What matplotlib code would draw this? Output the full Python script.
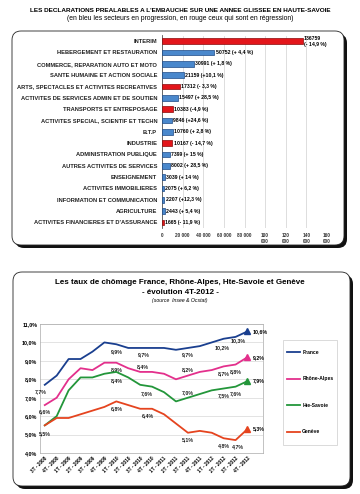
import matplotlib.pyplot as plt
from matplotlib.patches import FancyBboxPatch, Rectangle

plt.rcParams['font.family'] = ['Liberation Sans', 'DejaVu Sans']

# --- données : déclarations préalables à l'embauche
secteurs = ["INTERIM", "HEBERGEMENT ET RESTAURATION", "COMMERCE, REPARATION AUTO ET MOTO",
            "SANTE HUMAINE ET ACTION SOCIALE", "ARTS, SPECTACLES ET ACTIVITES RECREATIVES",
            "ACTIVITES DE SERVICES ADMIN ET DE SOUTIEN", "TRANSPORTS ET ENTREPOSAGE",
            "ACTIVITES SPECIAL, SCIENTIF ET TECHN", "B.T.P", "INDUSTRIE",
            "ADMINISTRATION PUBLIQUE", "AUTRES ACTIVITES DE SERVICES", "ENSEIGNEMENT",
            "ACTIVITES IMMOBILIERES", "INFORMATION ET COMMUNICATION", "AGRICULTURE",
            "ACTIVITES FINANCIERES ET D'ASSURANCE"]
dpae = [136759, 50752, 30991, 21159, 17312, 15497, 10383, 9846, 10760, 10167,
        7399, 8002, 3039, 2075, 2207, 2443, 1665]
evol = ["- 14,9 %", "+ 4,4 %", "+ 1,8 %", "+10,1 %", "- 3,3 %", "+ 28,5 %", "-4,9 %",
        "+24,6 %", "+ 2,8 %", "- 14,7 %", "+ 15 %", "+ 28,5 %", "+ 14 %", "+ 6,2 %",
        "+12,3 %", "+ 5,4 %", "- 11,9 %"]
x_ticks = [0, 20000, 40000, 60000, 80000, 100000, 120000, 140000, 160000]
x_labels = ["0", "20 000", "40 000", "60 000", "80 000", "100\n000", "120\n000", "140\n000", "160\n000"]

# --- données : taux de chômage
trimestres = ["3T - 2008", "4T - 2008", "1T - 2009", "2T - 2009", "3T - 2009", "4T - 2009",
              "1T - 2010", "2T - 2010", "3T - 2010", "4T - 2010", "1T - 2011", "2T - 2011",
              "3T - 2011", "4T - 2011", "1T - 2012", "2T - 2012", "3T - 2012", "4T - 2012"]
france = [7.7, 8.2, 9.1, 9.1, 9.5, 10.0, 9.9, 9.7, 9.7, 9.7, 9.7, 9.6, 9.7, 9.8, 10.0, 10.2, 10.3, 10.6]
rhone = [6.6, 7.0, 8.0, 8.6, 8.5, 8.9, 8.9, 8.6, 8.4, 8.4, 8.3, 8.0, 8.2, 8.4, 8.5, 8.7, 8.8, 9.2]
savoie = [5.5, 6.0, 7.4, 8.1, 8.1, 8.3, 8.4, 8.1, 7.7, 7.6, 7.3, 6.8, 7.0, 7.2, 7.4, 7.5, 7.6, 7.9]
geneve = [5.5, 5.9, 5.9, 6.1, 6.3, 6.5, 6.8, 6.6, 6.4, 6.4, 6.1, 5.6, 5.1, 5.2, 5.1, 4.8, 4.7, 5.3]

W, H = 360, 494
fig = plt.figure(figsize=(W / 100, H / 100), dpi=100)


def fy(py):
    return 1 - py / H


# fond : cadres arrondis avec ombre
bg = fig.add_axes([0, 0, 1, 1], zorder=0)
bg.set_xlim(0, W)
bg.set_ylim(H, 0)
bg.axis('off')
for (x0, y0, w, h) in [(12, 31, 332, 214), (13, 272, 337, 214)]:
    bg.add_patch(FancyBboxPatch((x0 + 3, y0 + 3), w, h, boxstyle='round,pad=0,rounding_size=9',
                                fc='#111111', ec='none'))
    bg.add_patch(FancyBboxPatch((x0, y0), w, h, boxstyle='round,pad=0,rounding_size=9',
                                fc='white', ec='#222222', lw=0.6))
# cadre de la légende
bg.add_patch(Rectangle((283, 340), 54, 105, fc='white', ec='#cccccc', lw=0.5))

# titres
fig.text(0.5, fy(11), "LES DECLARATIONS PREALABLES A L'EMBAUCHE SUR UNE ANNEE GLISSEE EN HAUTE-SAVOIE",
         ha='center', va='center', fontsize=4.55, fontweight='bold')
fig.text(0.5, fy(19), "(en bleu les secteurs en progression, en rouge ceux qui sont en régression)",
         ha='center', va='center', fontsize=4.85)

# --- graphique en barres
ax1 = fig.add_axes([162 / W, fy(228), 165 / W, 192.5 / H], zorder=2)
couleurs = ['#e3161b' if e.startswith('-') else '#4a88cc' for e in evol]
bords = ['#8a0a0a' if e.startswith('-') else '#1d4a86' for e in evol]
ax1.barh(range(len(secteurs)), dpae, height=0.5, color=couleurs, edgecolor=bords, linewidth=0.5, zorder=3)
ax1.set_ylim(len(secteurs) - 0.5, -0.5)
ax1.set_xlim(0, 160000)
ax1.set_yticks(range(len(secteurs)))
ax1.set_yticklabels(secteurs, fontsize=4.15, fontweight='bold', color='#222222')
ax1.set_xticks(x_ticks)
ax1.set_xticklabels(x_labels, fontsize=3.4, fontweight='bold', color='#333333')
ax1.tick_params(length=0, pad=3.5)
ax1.grid(axis='x', color='#d0d0d0', lw=0.5, zorder=0)
for s in ['top', 'right', 'bottom']:
    ax1.spines[s].set_visible(False)
ax1.spines['left'].set_color('#555555')
ax1.spines['left'].set_linewidth(0.6)
for i, (v, e) in enumerate(zip(dpae, evol)):
    if i == 0:
        ax1.text(v + 800, i, f"{v}\n({e})", va='center', ha='left', fontsize=3.7,
                 fontweight='bold', linespacing=1.2)
    else:
        ax1.text(v + 1200, i, f"{v} ({e})", va='center', ha='left', fontsize=3.7, fontweight='bold')

# --- graphique du chômage
fig.text(0.5, fy(282), "Les taux de chômage France, Rhône-Alpes, Hte-Savoie et Genève",
         ha='center', va='center', fontsize=5.8, fontweight='bold')
fig.text(0.5, fy(292), "- évolution 4T-2012 -", ha='center', va='center', fontsize=5.8, fontweight='bold')
fig.text(0.5, fy(300.5), "(source  Insee & Ocstat)", ha='center', va='center', fontsize=3.7,
         fontstyle='italic')

ax2 = fig.add_axes([40 / W, fy(453), 223 / W, 129 / H], zorder=2)
xs = list(range(len(trimestres)))
series = [("France", france, '#1a3f8f'), ("Rhône-Alpes", rhone, '#e3308c'),
          ("Hte-Savoie", savoie, '#23963a'), ("Genève", geneve, '#e5441f')]
# étiquettes de valeurs : (indice, décalage x, décalage y) en points
etiquettes = {
    "France": [(0, -3, -5), (6, 0, -5), (9, -6, -5), (12, 0, -5), (15, -1, -6.5), (16, 2, -3)],
    "Rhône-Alpes": [(0, 0, -5), (6, 0, -5), (8, 2, 4), (12, 0, 4), (15, 0, -5), (16, 0, -5)],
    "Hte-Savoie": [(0, 0, -6), (6, 0, -6), (9, -4, -5), (12, 0, 4), (15, 0, -5), (16, 0, -5)],
    "Genève": [(6, 0, -5), (9, -3, -5), (12, 0, -5), (15, 0, -5), (16, 2, -5)],
}
lignes = []
for nom, vals, c in series:
    ln, = ax2.plot(xs, vals, color=c, lw=1.3, label=nom, zorder=3)
    lignes.append(ln)
    ax2.plot(xs[-1], vals[-1], marker='^', ms=4.5, color=c, zorder=4)
    ax2.annotate(f"{vals[-1]:.1f}%".replace('.', ','), (xs[-1], vals[-1]), xytext=(4, 0),
                 textcoords='offset points', fontsize=3.8, fontweight='bold', va='center', ha='left')
    for idx, dx, dy in etiquettes[nom]:
        ax2.annotate(f"{vals[idx]:.1f}%".replace('.', ','), (xs[idx], vals[idx]), xytext=(dx, dy),
                     textcoords='offset points', fontsize=3.8, fontweight='bold',
                     va='center', ha='center', color='#222222')
ax2.set_ylim(4, 11)
ax2.set_xlim(-0.4, 18.3)
ax2.set_yticks(range(4, 12))
ax2.set_yticklabels([f"{t},0%" for t in range(4, 12)], fontsize=3.9, fontweight='bold')
ax2.set_xticks(xs)
ax2.set_xticklabels(trimestres, rotation=45, ha='right', rotation_mode='anchor',
                    fontsize=3.4, fontweight='bold')
ax2.tick_params(length=0, pad=2)
ax2.grid(axis='y', color='#d8d8d8', lw=0.5, zorder=0)
for s in ax2.spines.values():
    s.set_color('#aaaaaa')
    s.set_linewidth(0.5)

fig.legend(handles=lignes, labels=[s[0] for s in series],
           loc='center', bbox_to_anchor=(310 / W, fy(392)),
           prop={'weight': 'bold', 'size': 3.6}, frameon=False,
           handlelength=2.7, handletextpad=0.4, labelspacing=4.3, borderpad=0, borderaxespad=0)

fig.savefig('out.png', dpi=100)
